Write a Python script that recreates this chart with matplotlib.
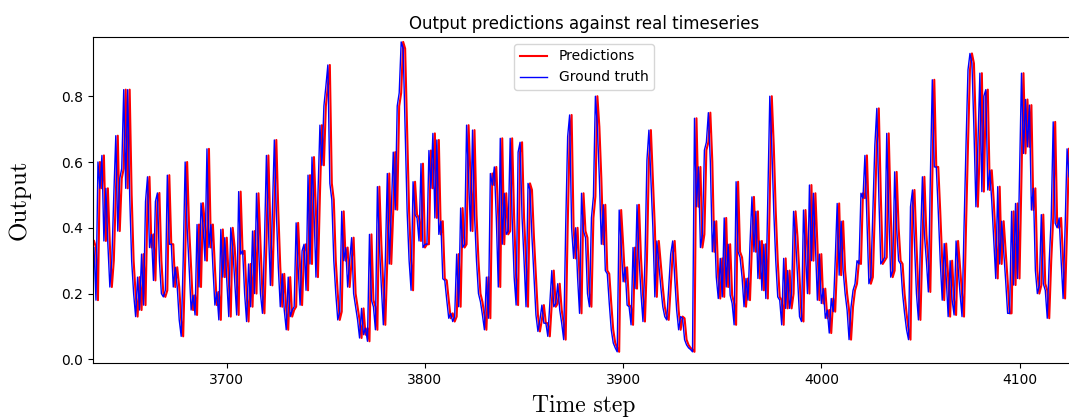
import matplotlib
matplotlib.use("Agg")
import matplotlib.pyplot as plt
import numpy as np

start_step = 3633

ground_truth = [
    0.34, 0.18, 0.60, 0.52, 0.62, 0.36, 0.52, 0.35, 0.22, 0.30,
    0.50, 0.68, 0.39, 0.55, 0.58, 0.82, 0.52, 0.82, 0.50, 0.30,
    0.20, 0.13, 0.25, 0.15, 0.32, 0.165, 0.48, 0.555, 0.34, 0.38,
    0.24, 0.48, 0.506, 0.30, 0.20, 0.19, 0.21, 0.56, 0.35, 0.35,
    0.22, 0.28, 0.22, 0.12, 0.07, 0.30, 0.60, 0.40, 0.28, 0.15,
    0.195, 0.135, 0.41, 0.22, 0.475, 0.41, 0.30, 0.64, 0.34, 0.41,
    0.28, 0.165, 0.205, 0.12, 0.395, 0.25, 0.37, 0.24, 0.13, 0.40,
    0.34, 0.24, 0.135, 0.51, 0.32, 0.33, 0.20, 0.115, 0.29, 0.16,
    0.39, 0.20, 0.505, 0.35, 0.20, 0.14, 0.35, 0.62, 0.40, 0.225,
    0.45, 0.667, 0.45, 0.28, 0.16, 0.26, 0.15, 0.09, 0.25, 0.13,
    0.15, 0.16, 0.415, 0.28, 0.165, 0.33, 0.35, 0.21, 0.56, 0.29,
    0.615, 0.45, 0.25, 0.50, 0.712, 0.59, 0.77, 0.83, 0.895, 0.535,
    0.485, 0.30, 0.20, 0.12, 0.145, 0.45, 0.30, 0.34, 0.22, 0.30,
    0.37, 0.20, 0.16, 0.12, 0.065, 0.155, 0.075, 0.095, 0.055, 0.38,
    0.18, 0.16, 0.09, 0.525, 0.35, 0.22, 0.105, 0.30, 0.565, 0.29,
    0.45, 0.63, 0.455, 0.77, 0.81, 0.965, 0.945, 0.70, 0.45, 0.30,
    0.21, 0.54, 0.44, 0.43, 0.36, 0.595, 0.34, 0.35, 0.35, 0.635,
    0.52, 0.687, 0.43, 0.667, 0.38, 0.42, 0.245, 0.24, 0.18, 0.125,
    0.14, 0.115, 0.13, 0.32, 0.16, 0.46, 0.34, 0.35, 0.712, 0.55,
    0.39, 0.697, 0.44, 0.30, 0.20, 0.175, 0.135, 0.09, 0.25, 0.125,
    0.565, 0.53, 0.585, 0.43, 0.22, 0.672, 0.35, 0.505, 0.38, 0.39,
    0.672, 0.43, 0.25, 0.165, 0.63, 0.66, 0.43, 0.30, 0.16, 0.535,
    0.515, 0.37, 0.25, 0.135, 0.085, 0.12, 0.165, 0.11, 0.11, 0.07,
    0.17, 0.27, 0.16, 0.17, 0.23, 0.15, 0.11, 0.06, 0.40, 0.677,
    0.743, 0.40, 0.307, 0.40, 0.25, 0.14, 0.505, 0.39, 0.37, 0.20,
    0.16, 0.43, 0.495, 0.80, 0.707, 0.55, 0.35, 0.47, 0.27, 0.26,
    0.17, 0.09, 0.05, 0.035, 0.023, 0.454, 0.35, 0.236, 0.28, 0.165,
    0.16, 0.105, 0.34, 0.215, 0.47, 0.31, 0.20, 0.115, 0.30, 0.605,
    0.697, 0.55, 0.40, 0.19, 0.36, 0.29, 0.22, 0.16, 0.13, 0.12,
    0.22, 0.32, 0.36, 0.25, 0.15, 0.09, 0.13, 0.125, 0.06, 0.044,
    0.035, 0.03, 0.023, 0.733, 0.464, 0.585, 0.34, 0.38, 0.636, 0.66,
    0.75, 0.60, 0.327, 0.42, 0.25, 0.185, 0.307, 0.19, 0.43, 0.22,
    0.35, 0.195, 0.17, 0.105, 0.54, 0.327, 0.31, 0.25, 0.16, 0.246,
    0.18, 0.35, 0.494, 0.327, 0.45, 0.246, 0.36, 0.21, 0.35, 0.185,
    0.50, 0.80, 0.65, 0.45, 0.30, 0.19, 0.18, 0.105, 0.307, 0.155,
    0.27, 0.155, 0.20, 0.45, 0.37, 0.25, 0.13, 0.115, 0.454, 0.33,
    0.20, 0.53, 0.30, 0.505, 0.35, 0.18, 0.32, 0.17, 0.215, 0.125,
    0.15, 0.08, 0.185, 0.145, 0.30, 0.474, 0.256, 0.42, 0.27, 0.20,
    0.15, 0.06, 0.16, 0.21, 0.23, 0.30, 0.29, 0.505, 0.49, 0.62,
    0.43, 0.23, 0.25, 0.45, 0.65, 0.763, 0.50, 0.29, 0.30, 0.31,
    0.687, 0.45, 0.25, 0.27, 0.57, 0.40, 0.30, 0.29, 0.20, 0.14,
    0.09, 0.06, 0.464, 0.515, 0.35, 0.20, 0.12, 0.35, 0.555, 0.38,
    0.30, 0.205, 0.55, 0.85, 0.585, 0.585, 0.45, 0.30, 0.18, 0.352,
    0.25, 0.13, 0.30, 0.18, 0.135, 0.36, 0.28, 0.20, 0.13, 0.40,
    0.65, 0.88, 0.93, 0.90, 0.70, 0.464, 0.65, 0.87, 0.51, 0.80,
    0.82, 0.515, 0.575, 0.48, 0.36, 0.246, 0.525, 0.29, 0.42, 0.33,
    0.24, 0.14, 0.14, 0.45, 0.226, 0.474, 0.246, 0.55, 0.87, 0.626,
    0.79, 0.646, 0.773, 0.454, 0.52, 0.27, 0.20, 0.225, 0.44, 0.23,
    0.21, 0.125, 0.30, 0.43, 0.722, 0.414, 0.40, 0.43, 0.30, 0.185,
    0.40, 0.64, 0.555,
]

predictions = [
    0.36, 0.34, 0.18, 0.60, 0.52, 0.62, 0.36, 0.52, 0.35, 0.22,
    0.30, 0.50, 0.68, 0.39, 0.55, 0.58, 0.82, 0.52, 0.82, 0.50,
    0.30, 0.20, 0.13, 0.25, 0.15, 0.32, 0.165, 0.48, 0.555, 0.34,
    0.38, 0.24, 0.48, 0.506, 0.30, 0.20, 0.19, 0.21, 0.56, 0.35,
    0.35, 0.22, 0.28, 0.22, 0.12, 0.07, 0.30, 0.60, 0.40, 0.28,
    0.15, 0.195, 0.135, 0.41, 0.22, 0.475, 0.41, 0.30, 0.64, 0.34,
    0.41, 0.28, 0.165, 0.205, 0.12, 0.395, 0.25, 0.37, 0.24, 0.13,
    0.40, 0.34, 0.24, 0.135, 0.51, 0.32, 0.33, 0.20, 0.115, 0.29,
    0.16, 0.39, 0.20, 0.505, 0.35, 0.20, 0.14, 0.35, 0.62, 0.40,
    0.225, 0.45, 0.667, 0.45, 0.28, 0.16, 0.26, 0.15, 0.09, 0.25,
    0.13, 0.15, 0.16, 0.415, 0.28, 0.165, 0.33, 0.35, 0.21, 0.56,
    0.29, 0.615, 0.45, 0.25, 0.50, 0.712, 0.59, 0.77, 0.83, 0.895,
    0.535, 0.485, 0.30, 0.20, 0.12, 0.145, 0.45, 0.30, 0.34, 0.22,
    0.30, 0.37, 0.20, 0.16, 0.12, 0.065, 0.155, 0.075, 0.095, 0.055,
    0.38, 0.18, 0.16, 0.09, 0.525, 0.35, 0.22, 0.105, 0.30, 0.565,
    0.29, 0.45, 0.63, 0.455, 0.77, 0.81, 0.965, 0.945, 0.70, 0.45,
    0.30, 0.21, 0.54, 0.44, 0.43, 0.36, 0.595, 0.34, 0.35, 0.35,
    0.635, 0.52, 0.687, 0.43, 0.667, 0.38, 0.42, 0.245, 0.24, 0.18,
    0.125, 0.14, 0.115, 0.13, 0.32, 0.16, 0.46, 0.34, 0.35, 0.712,
    0.55, 0.39, 0.697, 0.44, 0.30, 0.20, 0.175, 0.135, 0.09, 0.25,
    0.125, 0.565, 0.53, 0.585, 0.43, 0.22, 0.672, 0.35, 0.505, 0.38,
    0.39, 0.672, 0.43, 0.25, 0.165, 0.63, 0.66, 0.43, 0.30, 0.16,
    0.535, 0.515, 0.37, 0.25, 0.135, 0.085, 0.12, 0.165, 0.11, 0.11,
    0.07, 0.17, 0.27, 0.16, 0.17, 0.23, 0.15, 0.11, 0.06, 0.40,
    0.677, 0.743, 0.40, 0.307, 0.40, 0.25, 0.14, 0.505, 0.39, 0.37,
    0.20, 0.16, 0.43, 0.495, 0.80, 0.707, 0.55, 0.35, 0.47, 0.27,
    0.26, 0.17, 0.09, 0.05, 0.035, 0.023, 0.454, 0.35, 0.236, 0.28,
    0.165, 0.16, 0.105, 0.34, 0.215, 0.47, 0.31, 0.20, 0.115, 0.30,
    0.605, 0.697, 0.55, 0.40, 0.19, 0.36, 0.29, 0.22, 0.16, 0.13,
    0.12, 0.22, 0.32, 0.36, 0.25, 0.15, 0.09, 0.13, 0.125, 0.06,
    0.044, 0.035, 0.03, 0.023, 0.733, 0.464, 0.585, 0.34, 0.38, 0.636,
    0.66, 0.75, 0.60, 0.327, 0.42, 0.25, 0.185, 0.307, 0.19, 0.43,
    0.22, 0.35, 0.195, 0.17, 0.105, 0.54, 0.327, 0.31, 0.25, 0.16,
    0.246, 0.18, 0.35, 0.494, 0.327, 0.45, 0.246, 0.36, 0.21, 0.35,
    0.185, 0.50, 0.80, 0.65, 0.45, 0.30, 0.19, 0.18, 0.105, 0.307,
    0.155, 0.27, 0.155, 0.20, 0.45, 0.37, 0.25, 0.13, 0.115, 0.454,
    0.33, 0.20, 0.53, 0.30, 0.505, 0.35, 0.18, 0.32, 0.17, 0.215,
    0.125, 0.15, 0.08, 0.185, 0.145, 0.30, 0.474, 0.256, 0.42, 0.27,
    0.20, 0.15, 0.06, 0.16, 0.21, 0.23, 0.30, 0.29, 0.505, 0.49,
    0.62, 0.43, 0.23, 0.25, 0.45, 0.65, 0.763, 0.50, 0.29, 0.30,
    0.31, 0.687, 0.45, 0.25, 0.27, 0.57, 0.40, 0.30, 0.29, 0.20,
    0.14, 0.09, 0.06, 0.464, 0.515, 0.35, 0.20, 0.12, 0.35, 0.555,
    0.38, 0.30, 0.205, 0.55, 0.85, 0.585, 0.585, 0.45, 0.30, 0.18,
    0.352, 0.25, 0.13, 0.30, 0.18, 0.135, 0.36, 0.28, 0.20, 0.13,
    0.40, 0.65, 0.88, 0.93, 0.90, 0.70, 0.464, 0.65, 0.87, 0.51,
    0.80, 0.82, 0.515, 0.575, 0.48, 0.36, 0.246, 0.525, 0.29, 0.42,
    0.33, 0.24, 0.14, 0.14, 0.45, 0.226, 0.474, 0.246, 0.55, 0.87,
    0.626, 0.79, 0.646, 0.773, 0.454, 0.52, 0.27, 0.20, 0.225, 0.44,
    0.23, 0.21, 0.125, 0.30, 0.43, 0.722, 0.414, 0.40, 0.43, 0.30,
    0.185, 0.40, 0.64,
]

steps = np.arange(start_step, start_step + len(ground_truth))

fig = plt.figure(figsize=(10.69, 4.17), dpi=100)
# axes run a little past the right edge of the canvas
ax = fig.add_axes([93 / 1069, 54 / 417, 982 / 1069, 326 / 417])

ax.plot(steps, predictions, color="red", linewidth=1.5, label="Predictions")
ax.plot(steps, ground_truth, color="blue", linewidth=1.0, label="Ground truth")

ax.set_xlim(3632.5, 4128.0)
ax.set_ylim(-0.011, 0.98)
ax.set_title("Output predictions against real timeseries", fontsize=12)
ax.set_xlabel("Time step", fontname="cmr10", fontsize=17, labelpad=6)
ax.set_ylabel("Output", fontname="cmr10", fontsize=18, labelpad=22)
ax.legend(loc="upper center")

fig.savefig("out.png", dpi=100)
